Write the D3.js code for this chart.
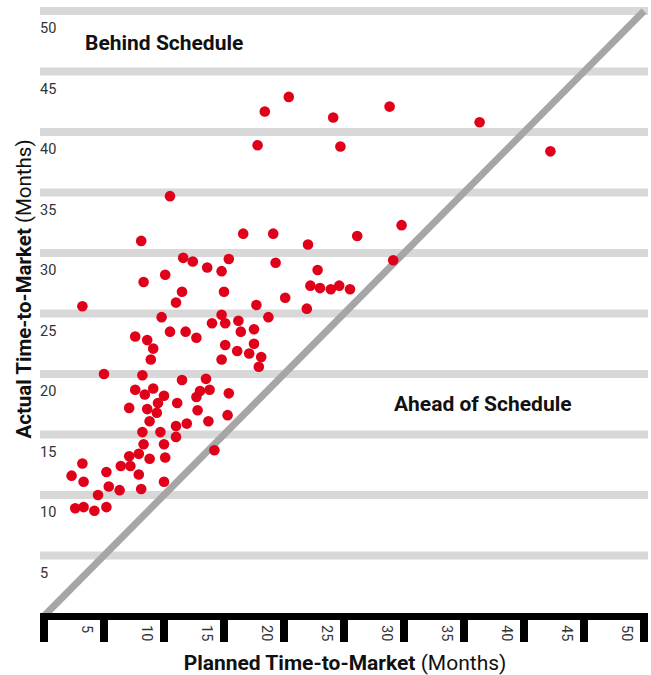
<!DOCTYPE html>
<html lang="en"><head>
<meta charset="utf-8">
<title>Time-to-Market</title>
<script src="https://cdn.jsdelivr.net/npm/d3@7/dist/d3.min.js"></script>
<style>
  body { margin: 0; background: #fff; }
  text { font-family: Roboto, "DejaVu Sans", sans-serif; }
</style>
</head>
<body>
<script type="text/javascript">

var width = 651;
var height = 675;

// planned vs actual time-to-market, months
var planned = [10.5, 17.8, 18.4, 20.4, 24.1, 24.7, 28.8, 36.3, 42.2,
  26.1, 29.8, 29.1, 24.6, 25.5,
  8.1, 16.6, 19.1, 22.0, 11.6, 12.4, 15.4, 19.3, 13.6, 14.8, 22.8, 10.1, 8.3,
  22.2, 23.0, 23.9, 11.5, 15.0, 20.1, 11.0, 17.7, 3.2, 21.9, 9.8, 14.8, 18.7,
  14.0, 15.1, 16.2, 7.6, 8.6, 10.5, 11.8, 12.7, 16.4, 17.5, 15.1, 9.1, 16.1,
  17.5, 17.1, 14.8, 18.1, 8.9, 17.9, 5.0, 8.2, 11.5, 13.5, 7.6, 9.1, 8.4,
  10.0, 13.0, 13.8, 12.7, 15.4, 7.1, 8.6, 9.5, 11.1, 12.8, 9.4, 15.3,
  8.8, 11.9, 13.7, 11.0, 8.2, 9.7, 11.0, 8.3, 10.0, 14.2, 7.9, 7.1, 8.8,
  10.1, 3.2, 6.4, 7.2, 5.2, 2.3, 7.9, 3.3, 10.0, 5.4, 6.3, 8.1, 4.5,
  2.6, 3.3, 4.2, 5.2];
var actual = [34.7, 38.9, 41.7, 42.9, 41.2, 38.8, 42.1, 40.8, 38.4,
  31.4, 32.3, 29.4, 27.3, 27.0,
  31.0, 31.6, 31.6, 30.7, 29.6, 29.3, 29.5, 29.2, 28.8, 28.5, 28.6, 28.2, 27.6,
  27.3, 27.1, 27.0, 26.8, 26.8, 26.3, 25.9, 25.7, 25.6, 25.4, 24.7, 24.9, 24.7,
  24.2, 24.2, 24.4, 23.1, 22.8, 23.5, 23.5, 23.0, 23.5, 23.7, 22.4, 22.1, 21.9,
  22.5, 21.7, 21.2, 21.4, 21.2, 20.6, 20.0, 19.9, 19.5, 19.6, 18.7, 18.8, 18.3,
  18.2, 18.6, 18.7, 18.1, 18.4, 17.2, 17.1, 17.6, 17.6, 17.0, 16.8, 16.6,
  16.1, 15.9, 16.1, 15.7, 15.2, 15.2, 14.8, 14.2, 14.2, 13.7, 13.4, 13.2, 13.0,
  13.1, 12.6, 12.4, 12.4, 11.9, 11.6, 11.7, 11.1, 11.1, 10.7, 10.4, 10.5, 10.0,
  8.9, 9.0, 8.7, 9.0];

var axisTicks = [0, 5, 10, 15, 20, 25, 30, 35, 40, 45, 50];
var tickLabels = [5, 10, 15, 20, 25, 30, 35, 40, 45, 50];

var svg = d3.select("body").append("svg")
    .attr("width", width)
    .attr("height", height);

var x = d3.scaleLinear().domain([0, 50]).range([44, 644]);
var y = d3.scaleLinear().domain([0, 50]).range([616, 11]);

// grey bands
svg.selectAll("rect.band")
    .data(tickLabels)
    .enter()
    .append("rect")
    .attr("class", "band")
    .attr("x", 40)
    .attr("width", 608)
    .attr("y", (d) => y(d) - 4)
    .attr("height", 8)
    .attr("fill", "#d8d8d8");

svg.selectAll("text.ylab")
    .data(tickLabels)
    .enter()
    .append("text")
    .attr("class", "ylab")
    .attr("x", 40)
    .attr("y", (d) => y(d) + 22)
    .attr("font-size", 14.5)
    .attr("fill", "#333")
    .text((d) => d);

// diagonal: planned == actual
svg.append("line")
    .attr("x1", x(0)).attr("y1", y(0))
    .attr("x2", x(50)).attr("y2", y(50))
    .attr("stroke", "#a6a6a6")
    .attr("stroke-width", 7);

svg.selectAll("circle")
    .data(planned)
    .enter()
    .append("circle")
    .attr("cx", (d) => x(d))
    .attr("cy", (d, i) => y(actual[i]))
    .attr("r", 5.3)
    .attr("fill", "#e1001a");

// x axis bar + thick ticks
svg.append("rect")
    .attr("x", 40).attr("y", 613)
    .attr("width", 608).attr("height", 7)
    .attr("fill", "#000");

svg.selectAll("rect.tick")
    .data(axisTicks)
    .enter()
    .append("rect")
    .attr("class", "tick")
    .attr("x", (d) => x(d) - 4)
    .attr("y", 613)
    .attr("width", 8)
    .attr("height", 29)
    .attr("fill", "#000");

svg.selectAll("text.xlab")
    .data(tickLabels)
    .enter()
    .append("text")
    .attr("class", "xlab")
    .attr("transform", (d) => "translate(" + (x(d) - 22) + ",625) rotate(90)")
    .attr("font-size", 14.5)
    .attr("fill", "#333")
    .text((d) => d);

svg.append("text")
    .attr("x", 85).attr("y", 50)
    .attr("font-size", 21)
    .attr("font-weight", "bold")
    .attr("fill", "#111")
    .text("Behind Schedule");

svg.append("text")
    .attr("x", 394).attr("y", 411)
    .attr("font-size", 21)
    .attr("font-weight", "bold")
    .attr("fill", "#111")
    .text("Ahead of Schedule");

var xt = svg.append("text")
    .attr("x", 345).attr("y", 670)
    .attr("text-anchor", "middle")
    .attr("font-size", 21)
    .attr("fill", "#111");
xt.append("tspan").attr("font-weight", "bold").text("Planned Time-to-Market");
xt.append("tspan").text(" (Months)");

var yt = svg.append("text")
    .attr("transform", "translate(31,289) rotate(-90)")
    .attr("text-anchor", "middle")
    .attr("font-size", 20.5)
    .attr("fill", "#111");
yt.append("tspan").attr("font-weight", "bold").text("Actual Time-to-Market");
yt.append("tspan").text(" (Months)");

</script>
</body></html>
